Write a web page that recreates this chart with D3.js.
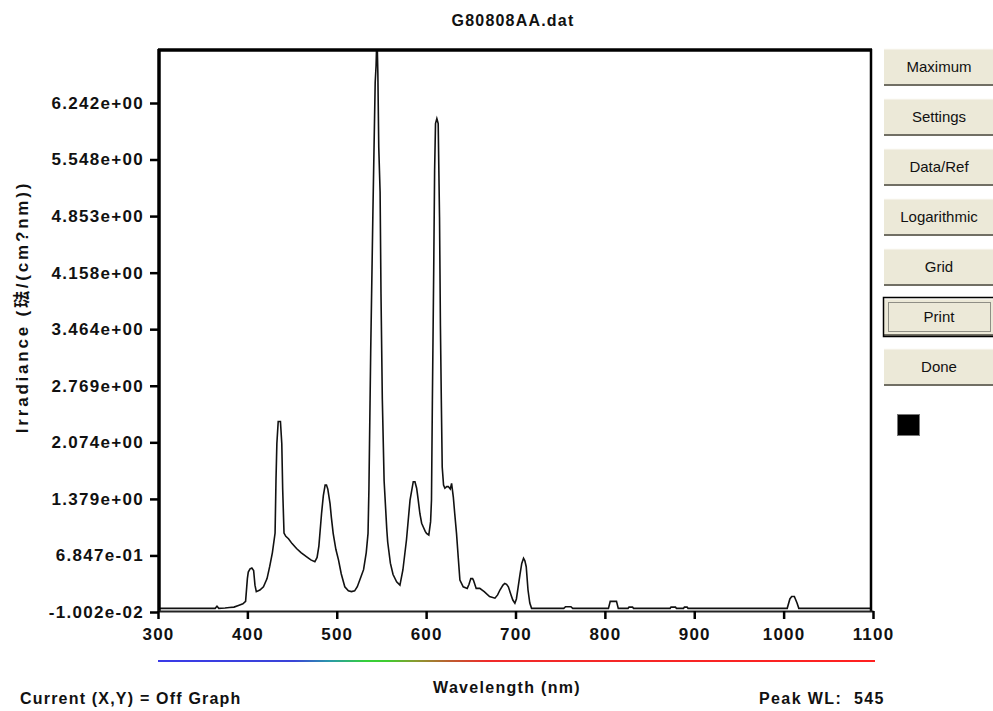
<!DOCTYPE html>
<html>
<head>
<meta charset="utf-8">
<script src="https://cdn.jsdelivr.net/npm/d3@7/dist/d3.min.js"></script>
<style>
  html, body { margin: 0; padding: 0; background: #fff; }
  svg { display: block; }
  .bold { font-family: "Liberation Sans", Arial, "Noto Sans CJK TC", sans-serif; font-weight: bold; fill: #111; }
  .btn { font-family: "Liberation Sans", Arial, sans-serif; font-size: 15px; fill: #111; }
</style>
</head>
<body>
<svg id="chart" width="993" height="711"></svg>
<script>
// ---------------- DATA ----------------
const title = "G80808AA.dat";
const wavelengths = [
  300, 360, 364, 366, 368, 375, 380, 385, 390, 395, 398,
  400, 401, 403, 405, 407, 408.5, 410, 414, 418, 422, 425, 428, 431,
  432, 433, 434.5, 437, 438.5, 439.5, 441, 443, 446, 450, 455, 460, 466, 471, 475.5,
  478, 480, 483, 485, 487, 488.5, 490, 492.5, 494, 496, 499, 502, 505, 509, 513, 516.5,
  520, 523, 527, 530, 533, 535, 536, 538, 540.5, 543, 544, 545, 546, 547, 548.5, 549.5,
  551, 553, 556, 557, 560, 563, 567, 570.7, 574, 578, 582, 585.6, 587.5, 589.4, 591,
  593, 595, 596.7, 599, 600.5, 603, 605, 606, 607, 608.5, 609.5, 610.5, 612, 613.5,
  615, 616, 617, 618, 619.5, 621, 623, 624.8, 627, 628.5, 630.4, 632, 634, 636, 637.8,
  641.5, 646, 648, 650, 652, 653, 656, 660, 665, 671, 677, 680, 682.6, 686, 688, 690,
  692, 695, 697, 699.3, 701, 703, 705, 707, 709, 710.5, 712, 714, 716, 718,
  754, 756, 762, 764, 804, 806, 813, 815, 826, 827, 831, 832, 873, 874, 879, 880,
  888, 889, 892, 893, 1004, 1007, 1009, 1012, 1015, 1017, 1100
];
const irradiance = [
  0.035, 0.035, 0.035, 0.06, 0.035, 0.04, 0.045, 0.05, 0.07, 0.09, 0.12,
  0.40, 0.48, 0.52, 0.53, 0.50, 0.32, 0.24, 0.26, 0.30, 0.40, 0.55, 0.72, 0.96,
  1.60, 2.06, 2.33, 2.33, 2.06, 1.50, 0.96, 0.92, 0.89, 0.83, 0.77, 0.72, 0.67, 0.63, 0.607,
  0.66, 0.80, 1.20, 1.42, 1.55, 1.55, 1.50, 1.32, 1.15, 0.956, 0.76, 0.628, 0.46, 0.30, 0.25, 0.24,
  0.25, 0.30, 0.42, 0.51, 0.72, 0.956, 1.50, 3.20, 4.93, 6.49, 6.70, 7.10, 6.60, 5.70, 5.15, 3.90,
  2.60, 1.60, 1.00, 0.85, 0.59, 0.45, 0.36, 0.32, 0.506, 0.874, 1.365, 1.59, 1.59, 1.51, 1.38,
  1.20, 1.08, 1.037, 0.98, 0.956, 0.935, 1.10, 1.365, 2.59, 4.20, 5.41, 5.99, 6.05, 5.99,
  4.84, 3.50, 2.59, 1.77, 1.55, 1.51, 1.53, 1.53, 1.50, 1.57, 1.405, 1.20, 0.956, 0.65, 0.383,
  0.30, 0.28, 0.33, 0.40, 0.40, 0.38, 0.28, 0.28, 0.24, 0.18, 0.16, 0.20, 0.26, 0.32, 0.34, 0.33,
  0.30, 0.20, 0.137, 0.097, 0.15, 0.30, 0.45, 0.587, 0.65, 0.62, 0.546, 0.26, 0.10, 0.035,
  0.035, 0.055, 0.055, 0.035, 0.035, 0.12, 0.12, 0.035, 0.035, 0.05, 0.05, 0.035, 0.035, 0.05, 0.05, 0.035,
  0.035, 0.05, 0.05, 0.035, 0.035, 0.15, 0.18, 0.18, 0.10, 0.035, 0.035
];
const xTicks = [300, 400, 500, 600, 700, 800, 900, 1000, 1100];
const yTicks = [-0.01002, 0.6847, 1.379, 2.074, 2.769, 3.464, 4.158, 4.853, 5.548, 6.242];
const yTickLabels = ["-1.002e-02", "6.847e-01", "1.379e+00", "2.074e+00", "2.769e+00",
                     "3.464e+00", "4.158e+00", "4.853e+00", "5.548e+00", "6.242e+00"];
const xLabel = "Wavelength (nm)";
const yLabel = "Irradiance (琺/(cm?nm))";
const statusText = "Current (X,Y) = Off Graph";
const peakText = "Peak WL:  545";
const buttonLabels = ["Maximum", "Settings", "Data/Ref", "Logarithmic", "Grid", "Print", "Done"];

// ---------------- LAYOUT ----------------
const svg = d3.select("#chart");
const frame = { left: 159, right: 871, top: 50, bottom: 611 };
const x = d3.scaleLinear().domain([300, 1100]).range([158, 873]);
const y = d3.scaleLinear().domain([-0.01002, 6.242]).range([612, 103]);

// clip
svg.append("defs").append("clipPath").attr("id", "plotclip")
  .append("rect").attr("x", frame.left).attr("y", frame.top + 1)
  .attr("width", frame.right - frame.left).attr("height", frame.bottom - frame.top);

// spectrum line
const pts = wavelengths.map((w, i) => [w, irradiance[i]]);
const line = d3.line().x(d => x(d[0])).y(d => y(d[1]));
svg.append("path").datum(pts)
  .attr("clip-path", "url(#plotclip)")
  .attr("d", line).attr("fill", "none")
  .attr("stroke", "#111").attr("stroke-width", 1.6).attr("stroke-linejoin", "miter");

// frame
svg.append("line").attr("x1", frame.left - 1).attr("x2", frame.right + 1)
  .attr("y1", frame.top).attr("y2", frame.top).attr("stroke", "#000").attr("stroke-width", 3.5);
svg.append("line").attr("x1", frame.left).attr("x2", frame.left)
  .attr("y1", frame.top - 1).attr("y2", frame.bottom + 1).attr("stroke", "#000").attr("stroke-width", 3.5);
svg.append("line").attr("x1", frame.right).attr("x2", frame.right)
  .attr("y1", frame.top - 1).attr("y2", frame.bottom + 1).attr("stroke", "#000").attr("stroke-width", 2.5);

// x axis
const xAxis = svg.append("g").attr("transform", `translate(0,${frame.bottom})`)
  .call(d3.axisBottom(x).tickValues(xTicks).tickFormat(d3.format("d"))
    .tickSize(8).tickSizeOuter(0).tickPadding(9));
xAxis.select(".domain").attr("stroke", "#222").attr("stroke-width", 2.2);
xAxis.selectAll(".tick line").attr("stroke", "#000").attr("stroke-width", 2.5);
xAxis.selectAll(".tick text").attr("class", "bold").style("font-size", "17px")
  .style("letter-spacing", "1.2px").attr("fill", "#111");

// y axis
const yAxis = svg.append("g").attr("transform", `translate(${frame.left - 1},0)`)
  .call(d3.axisLeft(y).tickValues(yTicks).tickFormat((d, i) => yTickLabels[i])
    .tickSize(8).tickSizeOuter(0).tickPadding(6));
yAxis.select(".domain").remove();
yAxis.selectAll(".tick line").attr("stroke", "#000").attr("stroke-width", 2.5);
yAxis.selectAll(".tick text").attr("class", "bold").style("font-size", "17px")
  .style("letter-spacing", "1.3px").attr("fill", "#111");

// title
svg.append("text").attr("class", "bold").attr("x", 513).attr("y", 26)
  .attr("text-anchor", "middle").style("font-size", "16px").style("letter-spacing", "1.2px")
  .text(title);

// y label
svg.append("text").attr("class", "bold")
  .attr("transform", `translate(28,307) rotate(-90)`)
  .attr("text-anchor", "middle").style("font-size", "17px").style("letter-spacing", "2.8px")
  .text(yLabel);

// colour bar
const grad = svg.select("defs").append("linearGradient").attr("id", "spec")
  .attr("x1", "0%").attr("x2", "100%");
[[0, "#3a3ae8"], [0.19, "#3a44d8"], [0.24, "#2a9aa8"], [0.29, "#35d03a"], [0.32, "#40cc30"],
 [0.36, "#8a9a30"], [0.41, "#c05a30"], [0.46, "#f02a2a"], [1, "#ff2020"]]
  .forEach(s => grad.append("stop").attr("offset", s[0]).attr("stop-color", s[1]));
svg.append("rect").attr("x", x(300)).attr("y", 660).attr("width", x(1100) - x(300) + 2)
  .attr("height", 2).attr("fill", "url(#spec)");

// bottom texts
svg.append("text").attr("class", "bold").attr("x", 507).attr("y", 693)
  .attr("text-anchor", "middle").style("font-size", "16px").style("letter-spacing", "1.3px").text(xLabel);
svg.append("text").attr("class", "bold").attr("x", 20).attr("y", 704)
  .style("font-size", "16px").style("letter-spacing", "1.2px").text(statusText);
svg.append("text").attr("class", "bold").attr("x", 759).attr("y", 704)
  .style("font-size", "16px").style("letter-spacing", "1.4px").style("white-space", "pre")
  .attr("xml:space", "preserve").text(peakText);

// buttons
const bg = svg.append("g");
buttonLabels.forEach((lab, i) => {
  const cy = 67 + i * 50;
  const g = bg.append("g");
  g.append("rect").attr("x", 884).attr("y", cy - 18).attr("width", 112).attr("height", 37)
    .attr("fill", "#ece9d8");
  g.append("line").attr("x1", 884).attr("x2", 996).attr("y1", cy + 18).attr("y2", cy + 18)
    .attr("stroke", "#716f64").attr("stroke-width", 2);
  g.append("line").attr("x1", 884).attr("x2", 996).attr("y1", cy - 18).attr("y2", cy - 18)
    .attr("stroke", "#fbfaf5").attr("stroke-width", 1);
  if (lab === "Print") {
    g.append("rect").attr("x", 883.5).attr("y", cy - 19.5).attr("width", 112).attr("height", 39)
      .attr("fill", "none").attr("stroke", "#000").attr("stroke-width", 1.5);
    g.append("rect").attr("x", 888.5).attr("y", cy - 14.5).attr("width", 102).attr("height", 29)
      .attr("fill", "none").attr("stroke", "#333").attr("stroke-width", 1)
      .attr("stroke-dasharray", "1,1");
  }
  g.append("text").attr("class", "btn").attr("x", 939).attr("y", cy + 5)
    .attr("text-anchor", "middle").text(lab);
});
svg.append("rect").attr("x", 897.5).attr("y", 414.5).attr("width", 22).attr("height", 21)
  .attr("fill", "#000").attr("stroke", "#777").attr("stroke-width", 1);
</script>
</body>
</html>
